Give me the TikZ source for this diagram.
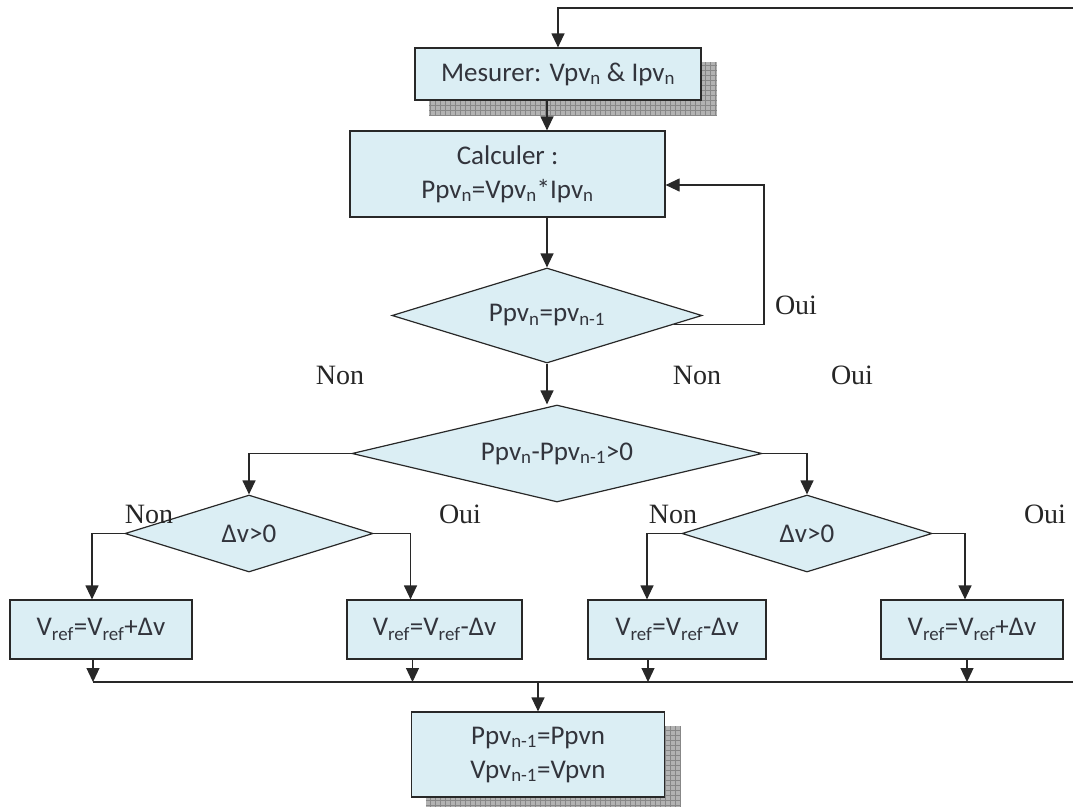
\documentclass[tikz,border=0pt]{standalone}
\usepackage{fontspec}
\setmainfont{Liberation Serif}
\newfontfamily\boxfont{Carlito}
\usetikzlibrary{shapes.geometric,arrows.meta,calc,backgrounds}
\definecolor{boxfill}{RGB}{219,238,244}
\definecolor{boxtext}{RGB}{50,52,60}
\definecolor{lncol}{RGB}{40,40,40}
\definecolor{shadowcol}{RGB}{178,178,178}
\definecolor{gridcol}{RGB}{135,135,135}
\begin{document}
\begin{tikzpicture}[x=1pt,y=-1pt,
  boxstyle/.style={draw=lncol, line width=1.2pt, fill=boxfill, rectangle, inner sep=0pt,
    font=\boxfont\fontsize{27}{34}\selectfont, text=boxtext, align=center},
  dia/.style={draw=lncol, line width=1.2pt, fill=boxfill, diamond, inner sep=0pt,
    font=\boxfont\fontsize{27}{34}\selectfont, text=boxtext},
  arr/.style={draw=lncol, line width=1.2pt, -{Triangle[width=13pt,length=14pt]}},
  ln/.style={draw=lncol, line width=1.2pt},
  lab/.style={font=\fontsize{28}{30}\selectfont, text=black!85, inner sep=0pt}
]
\useasboundingbox (0,0) rectangle (1073,807);

% boxes
\node[boxstyle, minimum width=286pt, minimum height=52pt] (mes) at (558,74)
  {Mesurer: Vpv\textsubscript{n} \& Ipv\textsubscript{n}};
\node[boxstyle, minimum width=315pt, minimum height=86pt] (calc) at (507.5,174)
  {Calculer :\\ Ppv\textsubscript{n}=Vpv\textsubscript{n}*Ipv\textsubscript{n}};
\node[dia, minimum width=310pt, minimum height=95pt, shape aspect=3.2] (d1) at (547,315.5)
  {Ppv\textsubscript{n}=pv\textsubscript{n-1}};
\node[dia, minimum width=410pt, minimum height=97pt, shape aspect=4.2] (d2) at (557,453.5)
  {Ppv\textsubscript{n}-Ppv\textsubscript{n-1}>0};
\node[dia, minimum width=248pt, minimum height=77pt, shape aspect=3.2] (d3) at (249,533.5)
  {\char"0394 v>0};
\node[dia, minimum width=250pt, minimum height=77pt, shape aspect=3.2] (d4) at (807,533.5)
  {\char"0394 v>0};
\node[boxstyle, minimum width=182pt, minimum height=59pt] (b1) at (101,629.5)
  {V\textsubscript{ref}=V\textsubscript{ref}+\char"0394 v};
\node[boxstyle, minimum width=175pt, minimum height=59pt] (b2) at (434.5,629.5)
  {V\textsubscript{ref}=V\textsubscript{ref}-\char"0394 v};
\node[boxstyle, minimum width=178pt, minimum height=59pt] (b3) at (677,629.5)
  {V\textsubscript{ref}=V\textsubscript{ref}-\char"0394 v};
\node[boxstyle, minimum width=182pt, minimum height=59pt] (b4) at (972,629.5)
  {V\textsubscript{ref}=V\textsubscript{ref}+\char"0394 v};
\node[boxstyle, minimum width=253pt, minimum height=85pt] (bot) at (538,754.5)
  {Ppv\textsubscript{n-1}=Ppvn\\ Vpv\textsubscript{n-1}=Vpvn};

% shadows
\begin{scope}[on background layer]
  \fill[shadowcol] ([shift={(15pt,-15pt)}]mes.south west) rectangle ([shift={(15pt,-15pt)}]mes.north east);
  \draw[gridcol, line width=0.6pt, step=5pt] ([shift={(15pt,-15pt)}]mes.south west) grid ([shift={(15pt,-15pt)}]mes.north east);
  \fill[shadowcol] ([shift={(15pt,-9pt)}]bot.south west) rectangle ([shift={(15pt,-15pt)}]bot.north east);
  \draw[gridcol, line width=0.6pt, step=5pt] ([shift={(15pt,-9pt)}]bot.south west) grid ([shift={(15pt,-15pt)}]bot.north east);
\end{scope}

% labels
\node[lab] (lo1) at (796,305) {Oui};
\node[lab] (ln1) at (340,375) {Non};
\node[lab] (ln2) at (697,375) {Non};
\node[lab] (lo2) at (852,375) {Oui};
\node[lab] (ln3) at (149,514) {Non};
\node[lab] (lo3) at (460,514) {Oui};
\node[lab] (ln4) at (673,514) {Non};
\node[lab] (lo4) at (1045,514) {Oui};

% coordinates
\coordinate (topR) at (1073,8);
\coordinate (loopX) at (764,0);
\coordinate (calcIn) at ([yshift=-11pt]calc.east);
\coordinate (mergeL) at (93,682);
\coordinate (mergeR) at (1073,682);

% connectors
\draw[arr] (topR) -| (mes.north);
\draw[arr] (mes.south -| d1.north) -- (calc.north -| d1.north);
\draw[arr] (calc.south -| d1.north) -- (d1.north);
\draw[arr] (d1.-4) -| (loopX |- calcIn) -- (calcIn);
\draw[arr] (d1.south) -- (d1.south |- d2.north);
\draw[arr] (d2.west) -| (d3.north);
\draw[arr] (d2.east) -| (d4.north);
\draw[arr] (d3.west) -| ([xshift=-9pt]b1.north);
\draw[arr] (d3.east) -| ([xshift=-24pt]b2.north);
\draw[arr] (d4.west) -| ([xshift=-30pt]b3.north);
\draw[arr] (d4.east) -| ([xshift=-7pt]b4.north);
\draw[ln] (mergeL) -- (mergeR);
\draw[arr] ([xshift=-8pt]b1.south) -- ([xshift=-8pt]b1.south |- mergeL);
\draw[arr] ([xshift=-22pt]b2.south) -- ([xshift=-22pt]b2.south |- mergeL);
\draw[arr] ([xshift=-29pt]b3.south) -- ([xshift=-29pt]b3.south |- mergeL);
\draw[arr] ([xshift=-5pt]b4.south) -- ([xshift=-5pt]b4.south |- mergeL);
\draw[arr] (bot.north |- mergeL) -- (bot.north);
\end{tikzpicture}
\end{document}
